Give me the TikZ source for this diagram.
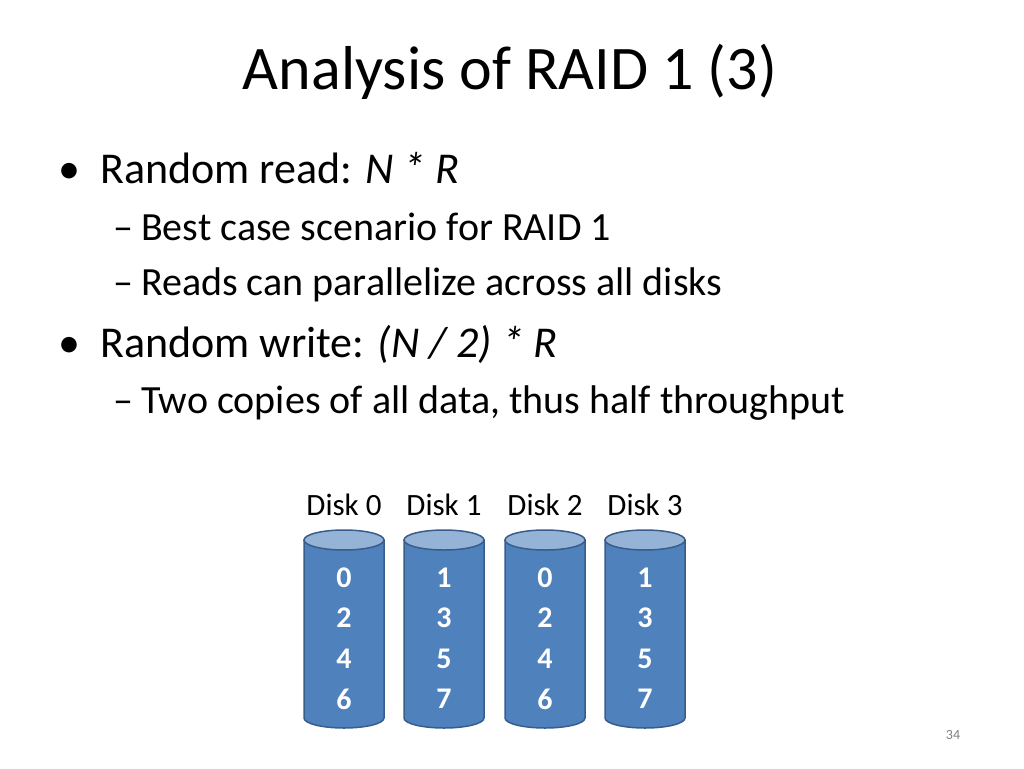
\documentclass[tikz,border=0pt]{standalone}
\usepackage{fontspec}
\setmainfont{Carlito}
\definecolor{body}{HTML}{4F81BD}
\definecolor{edge}{HTML}{385D8A}
\definecolor{topc}{HTML}{95B3D7}
\begin{document}
\begin{tikzpicture}[x=1pt,y=-1pt,
  t/.style={anchor=base west,inner sep=0pt},
  num/.style={text=white,font=\fontsize{30}{32}\selectfont\bfseries,inner sep=0pt},
  lab/.style={font=\fontsize{31}{34}\selectfont,inner sep=0pt,anchor=base}]
\useasboundingbox (0,0) rectangle (1024,768);
\node[inner sep=0pt,anchor=base,font=\fontsize{62}{68}\selectfont] (title) at (510,89) {Analysis of RAID 1 (3)};
\node[t,font=\fontsize{44}{48}\selectfont] (b1) at (58,183) {•};
\node[t,font=\fontsize{44}{48}\selectfont] (l1) at (100,183) {Random read: \textit{N * R}};
\node[t,font=\fontsize{40}{44}\selectfont] (l2) at (113,240) {–\hspace{8pt}Best case scenario for RAID 1};
\node[t,font=\fontsize{40}{44}\selectfont] (l3) at (113,295) {–\hspace{8pt}Reads can parallelize across all disks};
\node[t,font=\fontsize{44}{48}\selectfont] (b2) at (58,357) {•};
\node[t,font=\fontsize{44}{48}\selectfont] (l4) at (100,357) {Random write: \textit{(N / 2) * R}};
\node[t,font=\fontsize{40}{44}\selectfont] (l5) at (113,413) {–\hspace{8pt}Two copies of all data, thus half throughput};
\foreach \x/\a/\b/\c/\d [count=\i from 0] in {344/0/2/4/6,444/1/3/5/7,545/0/2/4/6,645/1/3/5/7}{
  \node[lab] (lab\i) at (\x,515) {Disk \i};
  \fill[body,draw=edge,line width=1.5pt] (\x-40,540) -- (\x-40,718) arc[start angle=180,end angle=0,x radius=40,y radius=10] -- (\x+40,540) -- cycle;
  \filldraw[fill=topc,draw=edge,line width=1.5pt] (\x,540) ellipse[x radius=40,y radius=10];
  \node[num] (n\i a) at (\x,578) {\a};
  \node[num] (n\i b) at (\x,618) {\b};
  \node[num] (n\i c) at (\x,659) {\c};
  \node[num] (n\i d) at (\x,699) {\d};
}
\node[inner sep=0pt,text=gray,font=\fontsize{14}{16}\selectfont] (pg) at (953,735) {34};
\end{tikzpicture}
\end{document}
